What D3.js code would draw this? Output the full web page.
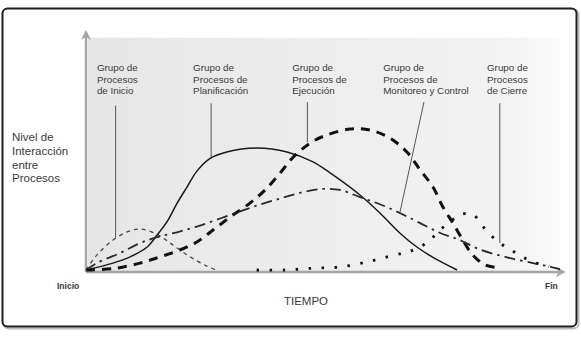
<!DOCTYPE html>
<html>
<head>
<meta charset="utf-8">
<script src="https://cdn.jsdelivr.net/npm/d3@7"></script>
<style>
  body { margin: 0; background: #fff; }
  svg { display: block; }
  text { font-family: "Liberation Sans", Arial, sans-serif; fill: #3a3a3a; }
</style>
</head>
<body>
<svg id="chart" width="581" height="340"></svg>
<script>
// tiempo (0 = Inicio, 100 = Fin) vs nivel de interaccion (0-100)
const inicio = [[0,0],[2.5,7],[5.7,13],[8.6,16.5],[11.4,17.8],[15,15.5],[17.7,11.8],[21.9,5.8],[25.5,1.7],[27.5,0]];
const planificacion = [[0,0],[5.7,3],[9.3,5.7],[12.9,10],[15,15.2],[17.1,21],[19.2,29],[21.3,36],[23.4,43],[26.2,48.5],[29.7,51.3],[36.1,53],[42.4,51.3],[47.9,47],[51.5,42.2],[57.8,32.6],[62,24.8],[66.2,16.1],[69.8,10],[73.2,5.5],[78.3,0]];
const ejecucion = [[0,0],[5.7,0.6],[11.4,3],[15.6,5.7],[19.8,8.7],[23.4,12.2],[26.8,17.4],[30.4,23],[34.6,29.1],[37.8,34.8],[40.9,42],[43.7,49],[47.3,55.2],[50.8,58.7],[55.7,61.3],[59.9,60.9],[64.1,57.4],[67.7,51.3],[70.5,43.5],[73.2,36.1],[75.3,27.4],[77.4,20.4],[79.5,13],[81.6,6.5],[84.2,2.2],[87.5,0.8]];
const monitoreo = [[0,0],[2.3,3],[7.2,7.4],[11.4,11.7],[15,14.3],[19.2,16.4],[23.4,18.9],[28.3,22.4],[32.5,25.5],[36.5,28.3],[40.5,30.8],[44.5,33.2],[49.4,35.2],[53.6,34.8],[57.8,31.7],[62,28.6],[66.2,24.8],[70.5,20.4],[74.7,16.1],[78.9,13],[83.1,8.9],[88.8,5.5],[94.3,3],[97.3,1.7],[100,0.4]];
const cierre = [[36,0],[42,0],[48,0.8],[53.6,1.3],[59.3,3.5],[64.1,6],[67.7,7.8],[70.5,10],[72.8,13.5],[74.7,17.4],[76.8,20.9],[78.9,24],[81.6,24.3],[83.3,20],[85.2,15.6],[87.3,11.7],[89.4,9.1],[91.8,6],[94.3,3.5],[97.7,1.5]];

const etiquetas = [
  ["Grupo de", "Procesos", "de Inicio"],
  ["Grupo de", "Procesos de", "Planificación"],
  ["Grupo de", "Procesos de", "Ejecución"],
  ["Grupo de", "Procesos de", "Monitoreo y Control"],
  ["Grupo de", "Procesos", "de Cierre"]
];
const etiquetaX = [2.3, 22.6, 43.5, 62.7, 84.6];
// leader lines: [x1, y1, x2, y2] in data units
const guias = [
  [6.25, 71.5, 6.25, 14],
  [26.4, 72.5, 26.4, 48.3],
  [46.7, 73, 46.7, 55.5],
  [71.3, 73, 66.2, 24.8],
  [87.3, 72.5, 87.3, 11.7]
];
const ejeY = ["Nivel de", "Interacción", "entre", "Procesos"];

const svg = d3.select("#chart");
const x = d3.scaleLinear().domain([0, 100]).range([86, 560]);
const y = d3.scaleLinear().domain([0, 100]).range([270, 40]);

const defs = svg.append("defs");
const grad = defs.append("linearGradient").attr("id", "bg").attr("x1", 0).attr("x2", 1).attr("y1", 0).attr("y2", 0);
grad.append("stop").attr("offset", "0%").attr("stop-color", "#e6e6e6");
grad.append("stop").attr("offset", "90%").attr("stop-color", "#f3f3f3");
grad.append("stop").attr("offset", "100%").attr("stop-color", "#fbfbfb");
defs.append("marker").attr("id", "arrow")
    .attr("viewBox", "0 0 10 10").attr("refX", 8).attr("refY", 5)
    .attr("markerWidth", 4).attr("markerHeight", 4).attr("orient", "auto")
  .append("path").attr("d", "M0,0 L10,5 L0,10 L3,5 Z").attr("fill", "#a5a5a5");

// frame
svg.append("rect")
    .attr("x", 3.5).attr("y", 9.5).attr("width", 575).attr("height", 319)
    .attr("rx", 5).attr("fill", "none").attr("stroke", "#bbb").attr("stroke-width", 2);
svg.append("rect")
    .attr("x", 2.5).attr("y", 8.5).attr("width", 574).attr("height", 318)
    .attr("rx", 5).attr("fill", "#fff").attr("stroke", "#1e1e1e").attr("stroke-width", 2);

// plot background
svg.append("rect")
    .attr("x", x(0) + 2).attr("y", y(101))
    .attr("width", x(100) - x(0) - 2).attr("height", y(0) - y(101) + 2)
    .attr("fill", "url(#bg)");

// axes
svg.append("line")
    .attr("x1", x(0)).attr("y1", y(0) + 2).attr("x2", x(0)).attr("y2", y(103.5))
    .attr("stroke", "#a5a5a5").attr("stroke-width", 2.5).attr("marker-end", "url(#arrow)");
svg.append("line")
    .attr("x1", x(0)).attr("y1", y(0) + 2).attr("x2", x(100.8)).attr("y2", y(0) + 2)
    .attr("stroke", "#a5a5a5").attr("stroke-width", 2.5).attr("marker-end", "url(#arrow)");

// leader lines
svg.append("g").selectAll("line").data(guias).join("line")
    .attr("x1", d => x(d[0])).attr("y1", d => y(d[1]))
    .attr("x2", d => x(d[2])).attr("y2", d => y(d[3]))
    .attr("stroke", "#555").attr("stroke-width", 1);

// curves
const line = d3.line().x(d => x(d[0])).y(d => y(d[1])).curve(d3.curveCatmullRom.alpha(0.5));
const series = [
  { data: inicio, color: "#444", width: 1.3, dash: "4,4" },
  { data: planificacion, color: "#1a1a1a", width: 1.5, dash: null },
  { data: ejecucion, color: "#111", width: 3, dash: "9,7" },
  { data: monitoreo, color: "#2a2a2a", width: 1.8, dash: "11,5,2.5,5" },
  { data: cierre, color: "#111", width: 2.8, dash: "2.5,10.5" }
];
svg.append("g").selectAll("path").data(series).join("path")
    .attr("d", d => line(d.data))
    .attr("fill", "none")
    .attr("stroke", d => d.color)
    .attr("stroke-width", d => d.width)
    .attr("stroke-dasharray", d => d.dash);

// group labels
svg.append("g").selectAll("text").data(etiquetas).join("text")
    .attr("x", (d, i) => x(etiquetaX[i]))
    .attr("y", y(86.5))
    .attr("font-size", 9.8)
  .selectAll("tspan").data(d => d).join("tspan")
    .attr("x", function() { return d3.select(this.parentNode).attr("x"); })
    .attr("dy", (d, i) => i ? 11.6 : 0)
    .text(d => d);

// y axis title
svg.append("text")
    .attr("x", 12).attr("y", 141)
    .attr("font-size", 11.5)
  .selectAll("tspan").data(ejeY).join("tspan")
    .attr("x", 12)
    .attr("dy", (d, i) => i ? 13.8 : 0)
    .text(d => d);

svg.append("text").attr("x", 57).attr("y", 289).attr("font-size", 8.5)
    .attr("font-weight", "bold").attr("fill", "#444").text("Inicio");
svg.append("text").attr("x", 545).attr("y", 289).attr("font-size", 8.5)
    .attr("font-weight", "bold").attr("fill", "#444").text("Fin");
svg.append("text").attr("x", 306).attr("y", 304.5).attr("font-size", 11.5)
    .attr("text-anchor", "middle").text("TIEMPO");
</script>
</body>
</html>
